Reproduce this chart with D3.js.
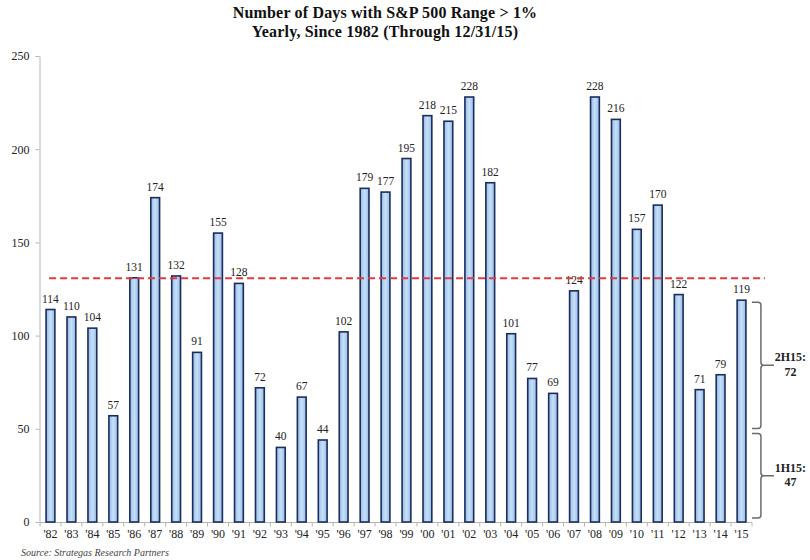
<!DOCTYPE html>
<html>
<head>
<meta charset="utf-8">
<script src="https://cdn.jsdelivr.net/npm/d3@7"></script>
<style>
  html, body { margin: 0; padding: 0; background: #fff; }
  svg { display: block; }
</style>
</head>
<body>
<svg id="chart" width="810" height="560"></svg>
<script>
// Number of trading days per year with an intraday S&P 500 range above 1%
const years = ["'82","'83","'84","'85","'86","'87","'88","'89","'90","'91","'92","'93","'94","'95","'96","'97","'98","'99","'00","'01","'02","'03","'04","'05","'06","'07","'08","'09","'10","'11","'12","'13","'14","'15"];
const days  = [114,110,104,57,131,174,132,91,155,128,72,40,67,44,102,179,177,195,218,215,228,182,101,77,69,124,228,216,157,170,122,71,79,119];
const yTicks = [0, 50, 100, 150, 200, 250];
// 2015 split into halves
const halfLabels = ["2H15:", "1H15:"];
const halfValues = [72, 47];

const titleLines = ["Number of Days with S&P 500 Range > 1%", "Yearly, Since 1982 (Through 12/31/15)"];
const sourceText = "Source: Strategas Research Partners";

const FONT = "'Liberation Serif', 'DejaVu Serif', serif";
const svg = d3.select("#chart");

const x = d3.scaleBand().domain(years).range([40, 752]).paddingInner(0.58).paddingOuter(0.29);
const y = d3.scaleLinear().domain([0, 250]).range([522, 56]);

// bar gradient: lighter stripe down the middle
const defs = svg.append("defs");
const grad = defs.append("linearGradient").attr("id", "barFill").attr("x1", "0").attr("x2", "1").attr("y1", "0").attr("y2", "0");
grad.append("stop").attr("offset", "0%").attr("stop-color", "#92bce8");
grad.append("stop").attr("offset", "50%").attr("stop-color", "#c8e0f6");
grad.append("stop").attr("offset", "100%").attr("stop-color", "#92bce8");

// title
svg.append("g").selectAll("text").data(titleLines).join("text")
  .attr("x", 385).attr("y", (d, i) => 18 + i * 19)
  .attr("text-anchor", "middle")
  .style("font-family", FONT).style("font-weight", "bold").style("font-size", "16px")
  .style("letter-spacing", "0.18px")
  .attr("fill", "#111")
  .text(d => d);

// y axis
const yAxis = svg.append("g").attr("transform", "translate(39.5,0)")
  .call(d3.axisLeft(y).tickValues(yTicks).tickSize(4).tickPadding(6).tickSizeOuter(0));
yAxis.select(".domain").attr("stroke", "#b5b5b5");
yAxis.selectAll(".tick line").attr("stroke", "#b5b5b5");
yAxis.selectAll(".tick text").style("font-family", FONT).style("font-size", "12px").attr("fill", "#222");

// x axis with ticks at band boundaries
const xAxisG = svg.append("g").attr("transform", `translate(0,${y(0) + 0.5})`);
xAxisG.append("line").attr("x1", x.range()[0]).attr("x2", x.range()[1])
  .attr("stroke", "#b5b5b5");
const bounds = years.map(d => x(d) - x.step() * x.paddingInner() / 2).concat([x.range()[1]]);
xAxisG.selectAll("line.tk").data(bounds).join("line").attr("class", "tk")
  .attr("x1", d => d).attr("x2", d => d).attr("y1", 0).attr("y2", 4)
  .attr("stroke", "#b5b5b5");
xAxisG.selectAll("text").data(years).join("text")
  .attr("x", d => x(d) + x.bandwidth() / 2).attr("y", 15)
  .attr("text-anchor", "middle")
  .style("font-family", FONT).style("font-size", "12px").attr("fill", "#222")
  .text(d => d);

// bars
svg.append("g").selectAll("rect").data(days).join("rect")
  .attr("x", (d, i) => x(years[i]))
  .attr("y", d => y(d))
  .attr("width", x.bandwidth())
  .attr("height", d => y(0) - y(d))
  .attr("fill", "url(#barFill)")
  .attr("stroke", "#1d2c5e").attr("stroke-width", 1.6);

// value labels
svg.append("g").selectAll("text").data(days).join("text")
  .attr("x", (d, i) => x(years[i]) + x.bandwidth() / 2)
  .attr("y", d => y(d) - 7)
  .attr("text-anchor", "middle")
  .style("font-family", FONT).style("font-size", "11.5px").attr("fill", "#222")
  .text(d => d);

// long-run average reference line
const avg = d3.mean(days);
svg.append("line")
  .attr("x1", x(years[0]) + 3).attr("x2", x.range()[1] + 13)
  .attr("y1", y(avg)).attr("y2", y(avg))
  .attr("stroke", "#e23b3f").attr("stroke-width", 2)
  .attr("stroke-dasharray", "7,4");

// braces splitting 2015 into halves
const lastX = x(years[years.length - 1]) + x.bandwidth();
const bx0 = lastX + 6, bx1 = lastX + 15, bTip = lastX + 28;
function brace(top, bottom) {
  const mid = (top + bottom) / 2, r = 3;
  return `M${bx0},${top} L${bx1 - r},${top} Q${bx1},${top} ${bx1},${top + r}` +
    ` L${bx1},${mid - r} Q${bx1},${mid} ${bx1 + r},${mid} L${bTip},${mid}` +
    ` M${bx1 + r},${mid} Q${bx1},${mid} ${bx1},${mid + r}` +
    ` L${bx1},${bottom - r} Q${bx1},${bottom} ${bx1 - r},${bottom} L${bx0},${bottom}`;
}
const total = days[days.length - 1];
const spans = [
  { top: y(total) + 2, bottom: y(halfValues[1]) - 6 },
  { top: y(halfValues[1]) - 1, bottom: y(0) - 4 }
];
const bg = svg.append("g");
spans.forEach((s, i) => {
  bg.append("path").attr("d", brace(s.top, s.bottom))
    .attr("fill", "none").attr("stroke", "#6b6b6b").attr("stroke-width", 1.5);
  const mid = (s.top + s.bottom) / 2;
  const t = bg.append("text").attr("y", mid - 4)
    .attr("text-anchor", "middle")
    .style("font-family", FONT).style("font-weight", "bold").style("font-size", "12px").attr("fill", "#222");
  t.append("tspan").attr("x", bTip + 16.5).text(halfLabels[i]);
  t.append("tspan").attr("x", bTip + 16.5).attr("dy", 14.5).text(halfValues[i]);
});

// source note
svg.append("text").attr("x", 21).attr("y", 556)
  .style("font-family", FONT).style("font-style", "italic").style("font-size", "10px")
  .attr("fill", "#444")
  .text(sourceText);
</script>
</body>
</html>
